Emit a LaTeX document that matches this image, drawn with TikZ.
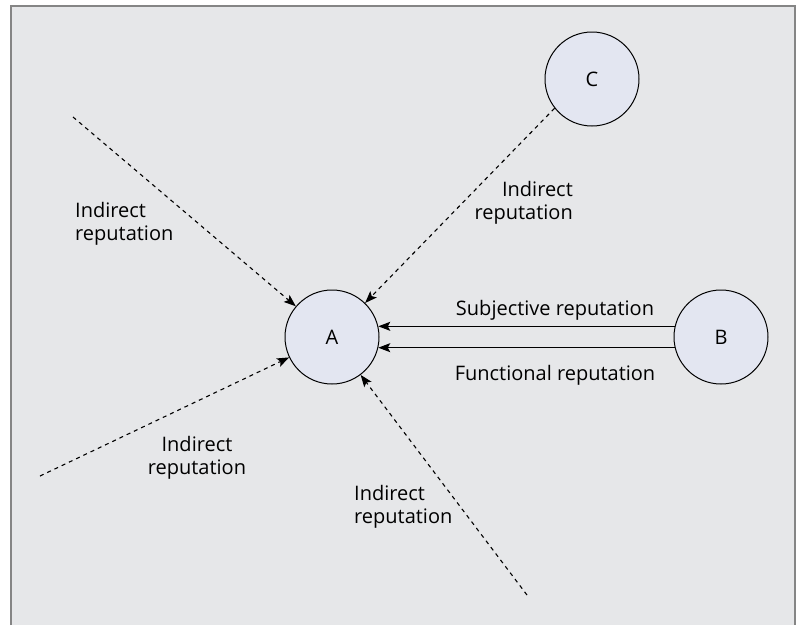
\documentclass[tikz,border=0pt]{standalone}
\usepackage{fontspec}
\setmainfont{Open Sans}
\usetikzlibrary{arrows.meta,positioning}
\definecolor{panel}{HTML}{E6E7E9}
\definecolor{framegray}{HTML}{858585}
\definecolor{agentfill}{HTML}{E3E6F1}
\tikzset{
    agent/.style={
           circle,
           draw=black, line width=1pt,
           fill=agentfill,
           minimum size=94pt,
           inner sep=0pt,
           font=\fontsize{20}{24}\selectfont
           },
    rep/.style={
              inner sep=0pt,
              align=left,
              font=\fontsize{20}{23.5}\selectfont
              },
    indirect/.style={
                  dash pattern=on 4pt off 4pt,
                  line width=1.1pt
                  },
}
\begin{document}
\begin{tikzpicture}[x=1pt,y=-1pt,>={Stealth[length=12pt,width=9pt,inset=2.5pt]}]
  \useasboundingbox (0,0) rectangle (798,625);
  \fill[white] (0,0) rectangle (798,625);
  \fill[panel] (11,6) rectangle (795,625);
  \draw[framegray, line width=1.6pt] (11,625) -- (11,6) -- (795,6) -- (795,625);
     \node[agent] (a) at (332,337) {A};
     \node[agent] (b) at (721,337) {B};
     \node[agent] (c) at (592,79)  {C};
     \coordinate (ul) at (73,117);
     \coordinate (ll) at (40,476);
     \coordinate (lo) at (527,595);
     \path[->, line width=1.1pt]
      (ul) edge[indirect] (a)
      (ll) edge[indirect] (a)
      (lo) edge[indirect] (a)
      (c.218) edge[indirect] (a)
      (b.167) edge (a.13)
      (b.193) edge (a.347)
      ;
     \node[rep, anchor=west] (ulrep) at (75,224)  {Indirect\\reputation};
     \node[rep, anchor=east, align=right] (crep) at (573,203) {Indirect\\reputation};
     \node[rep, align=center] (llrep) at (197,458) {Indirect\\reputation};
     \node[rep, anchor=west] (lorep) at (354,507) {Indirect\\reputation};
     \node[rep] (subj) at (555,310) {Subjective reputation};
     \node[rep] (func) at (555,375) {Functional reputation};
  \end{tikzpicture}
\end{document}
